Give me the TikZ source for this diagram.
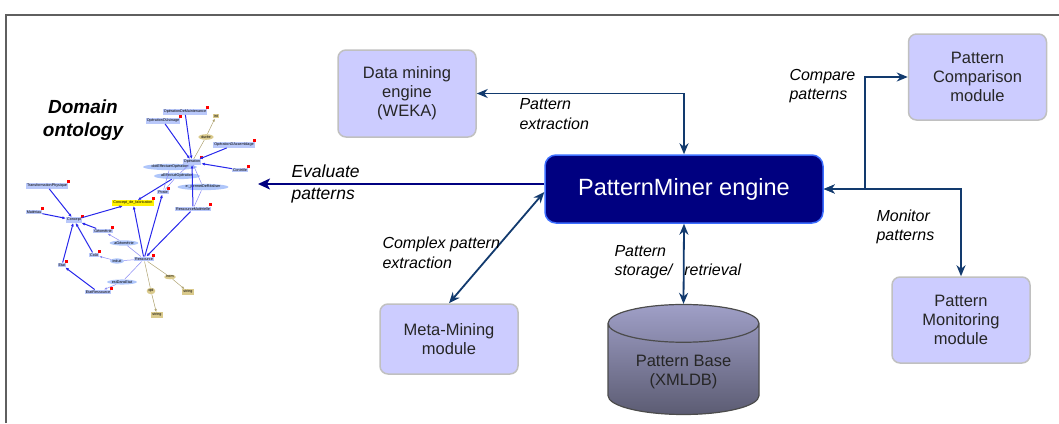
\documentclass[tikz,border=0pt]{standalone}
\usepackage{fontspec}
\setmainfont{Liberation Sans}
\usetikzlibrary{arrows.meta, shapes.geometric, positioning}

\definecolor{boxfill}{RGB}{204,204,255}
\definecolor{boxline}{RGB}{192,192,192}
\definecolor{enginefill}{RGB}{0,0,128}
\definecolor{engineline}{RGB}{60,110,255}
\definecolor{linkblue}{RGB}{18,58,110}
\definecolor{framegray}{RGB}{95,95,95}
\definecolor{ontoclass}{RGB}{185,200,250}
\definecolor{ontoprop}{RGB}{175,198,250}
\definecolor{ontolit}{RGB}{218,202,140}
\definecolor{ontoedge}{RGB}{40,40,235}

\begin{document}
\begin{tikzpicture}[x=1pt, y=-1pt,
    box/.style={draw=boxline, line width=1.5pt, fill=boxfill, rounded corners=8pt, align=center,
                font=\fontsize{16.5}{19}\selectfont, text=black!85},
    modbox/.style={box, minimum width=138pt, minimum height=86pt},
    enginebox/.style={draw=engineline, line width=1.5pt, fill=enginefill, rounded corners=11pt,
                text=white, font=\fontsize{23.5}{26}\selectfont, minimum width=278pt, minimum height=68pt},
    dbbox/.style={cylinder, shape border rotate=90, aspect=0.37, draw=black!70, line width=1.2pt,
                top color=black!22!boxfill, bottom color=black!55!boxfill, shading angle=0,
                minimum width=151pt, minimum height=110pt, align=center,
                font=\fontsize{16.5}{19}\selectfont, text=black!85},
    note/.style={align=left, anchor=west, font=\itshape\fontsize{16}{19.5}\selectfont},
    link/.style={{Stealth[length=11pt, width=9pt, inset=3.5pt]}-{Stealth[length=11pt, width=9pt, inset=3.5pt]},
                line width=1.8pt, draw=linkblue},
    evalarrow/.style={-{Stealth[length=12pt, width=11pt, inset=3pt]}, line width=1.8pt, draw=enginefill},
    % small ontology graph
    oclass/.style={fill=ontoclass, inner sep=1pt, font=\fontsize{3.7}{4.2}\selectfont,
                label={[fill=red, inner sep=0pt, minimum size=3pt, label distance=-1.8pt]north east:{}}},
    oprop/.style={ellipse, fill=ontoprop, inner sep=0.5pt, font=\fontsize{3.7}{4.2}\selectfont},
    olit/.style={fill=ontolit, inner sep=1pt, font=\fontsize{3.7}{4.2}\selectfont},
    olitprop/.style={ellipse, fill=ontolit, inner sep=0.6pt, font=\fontsize{3.7}{4.2}\selectfont},
    oedge/.style={-{Latex[length=3.5pt, width=3pt]}, line width=1pt, ontoedge},
    othin/.style={line width=0.5pt, ontoedge!55},
    othinarrow/.style={othin, -{Latex[length=3pt, width=2.4pt]}},
    otan/.style={line width=0.5pt, ontolit!80!black},
    otanarrow/.style={otan, -{Latex[length=3pt, width=2.4pt]}}
]
\useasboundingbox (0,0) rectangle (1059,423);

% frame
\draw[framegray, line width=1.6pt] (6,423) -- (6,15) -- (1059,15);

% engine and modules
\node[enginebox] (engine) at (684,189) {PatternMiner engine};
\node[modbox, minimum height=87pt] (weka) at (407,93.5) {Data mining\\engine\\(WEKA)};
\node[modbox, minimum height=70pt] (meta) at (449,339) {Meta-Mining\\module};
\node[modbox] (compare) at (977.5,77) {Pattern\\Comparison\\module};
\node[modbox] (monitor) at (961,320) {Pattern\\Monitoring\\module};
\node[dbbox] (base) at (683.5,372) {Pattern Base\\(XMLDB)};

% connectors
\coordinate (evalend) at (258,184);
\coordinate (cmpturn) at (865,189);
\draw[link] (weka.east) -| (engine.north);
\draw[link] (meta.north) -- ([yshift=-3pt]engine.west);
\draw[link] (engine.south) -- (base.north);
\draw[link] (engine.east) -- (cmpturn) |- (compare.west);
\draw[link] (engine.east) -| (monitor.north);
\draw[evalarrow] ([yshift=5pt]engine.west) -- (evalend);

% connector labels
\node[note] (extractlbl) at (516,114) {Pattern\\extraction};
\node[note, font=\itshape\fontsize{17.5}{22}\selectfont] (evallbl) at (288,184) {Evaluate\\patterns};
\node[note] (complexlbl) at (379,253) {Complex pattern\\extraction};
\node[note] (storelbl) at (611,262) {Pattern\\storage/\hspace{12pt}retrieval};
\node[note] (comparelbl) at (786,86) {Compare\\patterns};
\node[note] (monitorlbl) at (873,227) {Monitor\\patterns};

% domain ontology
\node[align=center, font=\bfseries\itshape\fontsize{19}{23}\selectfont] (ontolbl) at (83,120) {Domain\\ontology};

\node[oclass] (omaint) at (185,112) {OpérationDeMaintenance};
\node[oclass] (ousin) at (163,121) {OpérationDUsinage};
\node[olit] (oint) at (216,116) {int};
\node[olitprop] (oduree) at (206,137) {durée};
\node[oclass] (oassem) at (234,145) {OpérationDAssemblage};
\node[oclass, label={}] (oper) at (192,162) {Opération};
\node[oclass] (octrl) at (240,170) {Contrôle};
\node[oprop] (odoit) at (170,167) {doitEffectuerOpération};
\node[oprop] (oaeff) at (177,176) {aEffectuéOpération};
\node[oprop] (opermet) at (203,187) {e:\_permetDeRéaliser};
\node[oclass] (oposte) at (163,192) {Poste};
\node[oclass] (orespm) at (193,209) {RessourceMatérielle};
\node[oclass, fill=yellow] (ocdf) at (133,203) {Concept\_de\_fabrication};
\node[oclass] (otransf) at (47,186) {TransformationPhysique};
\node[oclass] (omater) at (34,212) {Matériau};
\node[oclass, label={}] (oconcept) at (74,220) {Concept};
\node[oclass] (ogeom) at (103,231) {Géométrie};
\node[oprop] (oageo) at (124,243) {aGéométrie};
\node[oclass, label={}] (ocout) at (94,255) {Coût};
\node[oprop] (oinduit) at (117,261) {induit};
\node[oclass, label={}] (ores) at (144,259) {Ressource};
\node[oclass] (oetat) at (62,265) {Etat};
\node[oprop] (oestdans) at (122,282) {estDansEtat};
\node[oclass] (oetatres) at (98,292) {EtatRessource};
\node[olitprop] (onom) at (170,277) {nom};
\node[olit] (ostrone) at (188,292) {string};
\node[olitprop] (oqid) at (151,291) {qid};
\node[olit] (ostrtwo) at (157,315) {string};

\draw[oedge] (omaint) -- (oper);
\draw[oedge] (ousin) -- (oper);
\draw[oedge] (oassem) -- (oper);
\draw[oedge] (octrl) -- (oper);
\draw[oedge] (orespm) -- (oper);
\draw[oedge] (oaeff) -- (ocdf);
\draw[oedge] (ores) -- (oposte);
\draw[oedge] (ores) -- (ocdf);
\draw[oedge] (orespm) -- (ores);
\draw[oedge] (oconcept) -- (ocdf);
\draw[oedge] (otransf) -- (oconcept);
\draw[oedge] (omater) -- (oconcept);
\draw[oedge] (ogeom) -- (oconcept);
\draw[oedge] (ocout) -- (oconcept);
\draw[oedge] (oetat) -- (oconcept);
\draw[oedge] (oetatres) -- (oetat);
\draw[othin] (oposte) -- (odoit) -- (oper);
\draw[othin] (oposte) -- (oaeff) -- (oper);
\draw[othin] (orespm) -- (opermet) -- (oper);
\draw[othin] (ores) -- (oageo);
\draw[othinarrow] (oageo) -- (ogeom);
\draw[othin] (ores) -- (oinduit);
\draw[othinarrow] (oinduit) -- (ocout);
\draw[othin] (ores) -- (oestdans);
\draw[othinarrow] (oestdans) -- (oetatres);
\draw[otan] (oper) -- (oduree);
\draw[otanarrow] (oduree) -- (oint);
\draw[otan] (ores) -- (onom);
\draw[otanarrow] (onom) -- (ostrone);
\draw[otan] (ores) -- (oqid);
\draw[otanarrow] (oqid) -- (ostrtwo);
\end{tikzpicture}
\end{document}
